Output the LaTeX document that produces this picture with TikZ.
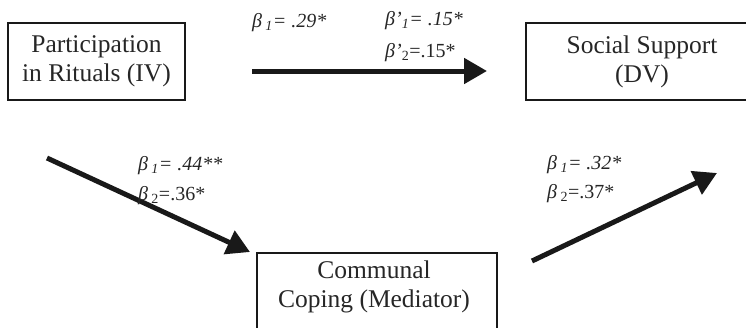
\documentclass[tikz,border=0pt]{standalone}
\usepackage{fontspec}
\setmainfont{Liberation Serif}
\usetikzlibrary{arrows.meta}
\tikzset{
  varbox/.style={draw=black!90, line width=2.5pt, align=center, inner sep=0pt,
    font=\fontsize{25.5}{29}\selectfont, text=black!85},
  coef/.style={anchor=base west, inner sep=0pt, font=\fontsize{20}{22}\selectfont, text=black!85},
  patharrow/.style={line width=5pt, draw=black!90, -{Triangle[length=23pt,width=25pt]}}
}
\begin{document}
\begin{tikzpicture}[x=1pt,y=-1pt]
\useasboundingbox (0,0) rectangle (746,327);
\clip (0,0) rectangle (746,327);
% boxes
\node[varbox, minimum width=177pt, minimum height=77pt] (iv) at (96.5,61.5) {Participation\\in Rituals (IV)};
\node[varbox, minimum width=232pt, minimum height=77pt] (dv) at (642,61.5) {Social Support\\(DV)};
\node[varbox, minimum width=240pt, minimum height=100pt, text depth=0pt] (med) at (377,303) {};
\node[anchor=center, font=\fontsize{25.5}{29}\selectfont, text=black!85, align=center, inner sep=0pt] (medtext) at (374,287) {Communal\\Coping (Mediator)};
% connector ends
\coordinate (a1s) at (252,71);
\coordinate (a1e) at (487,71);
\coordinate (a2s) at (47,158);
\coordinate (a2e) at (250,252);
\coordinate (a3s) at (532,261);
\coordinate (a3e) at (717,173);
\draw[patharrow] (a1s) -- (a1e);
\draw[patharrow] (a2s) -- (a2e);
\draw[patharrow] (a3s) -- (a3e);
% coefficients
\node[coef] (c1) at (252,27) {\itshape β\,\textsubscript{1}= .29*};
\node[coef] (c2) at (385,25) {\itshape β’\textsubscript{1}= .15*};
\node[coef] (c3) at (385,57) {{\itshape β’}\textsubscript{2}=.15*};
\node[coef] (c4) at (138,170) {\itshape β\,\textsubscript{1}= .44**};
\node[coef] (c5) at (138,200) {{\itshape β}\,\textsubscript{2}=.36*};
\node[coef] (c6) at (547,169) {\itshape β\,\textsubscript{1}= .32*};
\node[coef] (c7) at (547,198) {{\itshape β}\,\textsubscript{2}=.37*};
\end{tikzpicture}
\end{document}
